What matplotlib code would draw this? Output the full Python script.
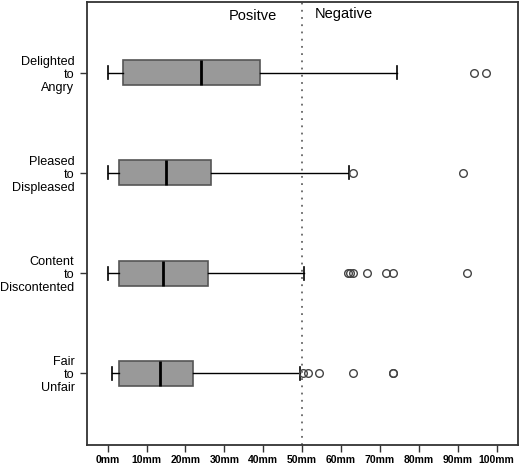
import matplotlib
matplotlib.use("Agg")
import matplotlib.pyplot as plt

# scale labels, top row first
labels = ["Delighted\nto\nAngry", "Pleased\nto\nDispleased",
          "Content\nto\nDiscontented", "Fair\nto\nUnfair"]

# box summaries (mm)
whislo = [0.0, 0.0, 0.0, 1.2]
q1 = [3.9, 2.9, 2.9, 2.9]
med = [23.9, 14.9, 14.3, 13.5]
q3 = [39.2, 26.7, 25.8, 22.0]
whishi = [74.3, 62.0, 50.5, 49.5]
fliers = [
    [94.2, 97.3],
    [63.0, 91.4],
    [61.9, 62.3, 63.0, 66.7, 71.5, 73.3, 92.4],
    [50.3, 51.6, 54.3, 63.0, 73.3, 73.3],
]

xticks = list(range(0, 101, 10))
xticklabels = [f"{v}mm" for v in xticks]

plt.rcParams['font.family'] = ['Liberation Sans', 'DejaVu Sans']

fig = plt.figure(figsize=(5.2, 4.65), dpi=100)
ax = fig.add_axes([87 / 520, 20 / 465, 431 / 520, 443 / 465])

stats = []
for i in range(len(labels)):
    stats.append({"whislo": whislo[i], "q1": q1[i], "med": med[i],
                  "q3": q3[i], "whishi": whishi[i], "fliers": fliers[i]})

positions = [4, 3, 2, 1]
ax.bxp(stats, positions=positions, vert=False, widths=0.25,
       patch_artist=True, showfliers=True,
       boxprops=dict(facecolor="#999999", edgecolor="#555555", linewidth=1.2),
       medianprops=dict(color="black", linewidth=2),
       whiskerprops=dict(color="black", linewidth=1),
       capprops=dict(color="black", linewidth=1.2),
       capwidths=0.13,
       flierprops=dict(marker="o", markerfacecolor="none",
                       markeredgecolor="#444444", markersize=5.5,
                       markeredgewidth=1))

ax.axvline(50, color="#666666", linestyle=(0, (1, 3)), linewidth=1.3, zorder=0)

ax.text(43.5, 0.968, "Positve", transform=ax.get_xaxis_transform(),
        ha="right", va="center", fontsize=10.5)
ax.text(53.3, 0.972, "Negative", transform=ax.get_xaxis_transform(),
        ha="left", va="center", fontsize=10.5)

ax.set_xlim(-5.3, 105.5)
ax.set_ylim(0.283, 4.707)
ax.set_xticks(xticks)
ax.set_xticklabels(xticklabels, fontsize=7.5, fontweight="bold")
ax.set_yticks(positions)
ax.set_yticklabels(labels, fontsize=9.1, ha="right", multialignment="right",
                   linespacing=1.1)
ax.tick_params(axis="both", length=5, width=1, color="#333333")
ax.tick_params(axis="x", pad=2)
ax.tick_params(axis="y", pad=4)

for s in ax.spines.values():
    s.set_color("#333333")
    s.set_linewidth(1.3)

fig.savefig("out.png", dpi=100)
